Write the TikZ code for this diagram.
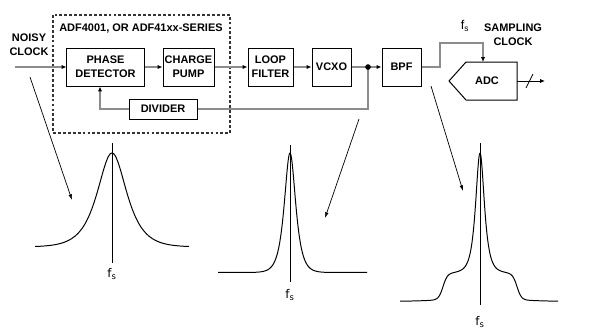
\documentclass[tikz,border=0pt]{standalone}
\usepackage{fontspec}
\setmainfont{Liberation Sans}
\newfontfamily\fsfont{DejaVu Sans}
\usetikzlibrary{arrows.meta}

\begin{document}
\begin{tikzpicture}[x=0.025cm, y=-0.025cm, font=\fontsize{7.8}{10}\selectfont\bfseries,
    blk/.style={draw, line width=0.7pt, inner sep=0pt, align=center, minimum height=0.95cm},
    sig/.style={draw=gray!90, line width=1.2pt},
    tip/.style={-{Latex[length=3.5pt,width=3pt,color=black]}},
    spec/.style={line width=0.7pt},
    ptr/.style={line width=0.5pt, -{Latex[length=4pt,width=2.5pt]}}]
    \useasboundingbox (0,0) rectangle (597,332);

    % Nodes
    \draw[dashed, dash pattern=on 2pt off 1.5pt, line width=0.8pt, draw=black!80] (53,15) rectangle (230,133);
    \node at (141,29) {ADF4001, OR ADF41xx-SERIES};
    \node[align=center] (noisy) at (29,45) {NOISY\\CLOCK};
    \node[blk, minimum width=1.925cm] (pd) at (105.5,67) {PHASE\\DETECTOR};
    \node[blk, minimum width=1.275cm] (cp) at (188.5,67) {CHARGE\\PUMP};
    \node[blk, minimum width=1.125cm] (lf) at (270.5,67) {LOOP\\FILTER};
    \node[blk, minimum width=0.975cm] (vcxo) at (331.5,67) {VCXO};
    \node[blk, minimum width=0.975cm] (bpf) at (401.5,67) {BPF};
    \node[blk, minimum width=1.7cm, minimum height=0.5cm] (div) at (163,109) {DIVIDER};
    \coordinate (tap) at (368,67);
    \coordinate (clkin) at (15,67);

    % ADC
    \draw[line width=0.7pt] (449,81) -- (466,62) coordinate (adcnw) -- (517,62) -- (517,100) -- (466,100) -- cycle;
    \coordinate (adctop) at (483,62);
    \coordinate (adcout) at (517,81);
    \coordinate (adcend) at (545,81);
    \node (adc) at (487,81) {ADC};
    \node[align=center] (smp) at (513,35) {SAMPLING\\CLOCK};
    \node[font=\fontsize{9}{10}\selectfont] (fstop) at (465,26) {f\textsubscript{s}};

    % Connection
    \draw[sig, tip] (clkin) -- (pd);
    \draw[sig, tip] (pd) -- (cp);
    \draw[sig, tip] (cp) -- (lf);
    \draw[sig, tip] (lf) -- (vcxo);
    \draw[sig, tip] (vcxo) -- (bpf);
    \draw[sig] (tap) |- (div.east);
    \draw[sig, tip] (div.west) -| ([xshift=-0.1375cm]pd.south);
    \draw[sig, tip] (bpf.east) -| (440,43) -| (adctop);
    \fill (tap) circle (2pt);
    \draw[line width=0.7pt, -{Latex[length=3.5pt,width=3pt]}] (adcout) -- (adcend);
    \draw[line width=0.6pt] (526,88) -- (533,74);

    % Spectra
    \draw[line width=0.5pt] (112,143) -- (112,263);
    \draw[spec] plot[domain=35:189, samples=160, smooth] (\x, {247 - 94/cosh((\x-112)/13)});
    \node[font=\fsfont\fontsize{8.5}{10}\selectfont] (fs1) at (112,274) {f\textsubscript{s}};

    \draw[line width=0.5pt] (290,145) -- (290,282);
    \draw[spec] plot[domain=218:367, samples=300, smooth] (\x, {272.5 - 119.5/cosh(min(abs(\x-290)/5,9))});
    \node[font=\fsfont\fontsize{8.5}{10}\selectfont] (fs2) at (290,295) {f\textsubscript{s}};

    \draw[line width=0.5pt] (480,143) -- (480,305);
    \draw[spec] plot[domain=400:558, samples=320, smooth] (\x, {302 - 117/cosh(min(abs(\x-480)/3.8,9)) - 26/(1+exp(min((abs(\x-480)-37)/2.2,9))) - 6/(1+((\x-480)/30)^2)});
    \node[font=\fsfont\fontsize{8.5}{10}\selectfont] (fs3) at (480,322) {f\textsubscript{s}};

    % Pointers
    \coordinate (p1) at (30,77);
    \coordinate (p2) at (359,119);
    \coordinate (p3) at (431,86);
    \draw[ptr] (p1) -- (72,200);
    \draw[ptr] (p2) -- (325,218);
    \draw[ptr] (p3) -- (463,191);
\end{tikzpicture}
\end{document}
